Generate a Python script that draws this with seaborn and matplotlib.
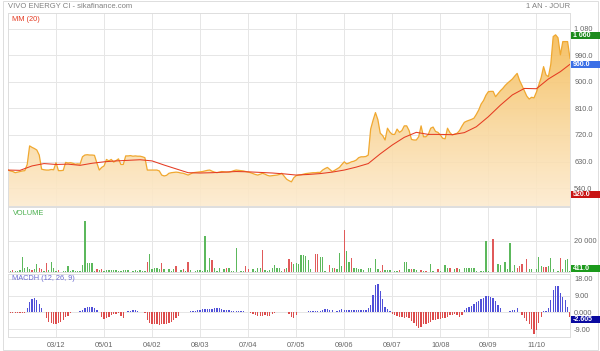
import numpy as np
import matplotlib
matplotlib.use('Agg')
import matplotlib.pyplot as plt
import seaborn as sns
from matplotlib.colors import LinearSegmentedColormap
from matplotlib.patches import Rectangle, PathPatch

# x tick labels (every 20 sessions)
tick_days = [20, 40, 60, 80, 100, 120, 140, 160, 180, 200, 220]
tick_dates = ['03/12', '05/01', '04/02', '08/03', '07/04', '07/05',
              '09/06', '09/07', '10/08', '09/09', '11/10']

# closing price, one value per session
price = [601, 598, 596, 592, 594, 596, 598, 599, 620, 683,
         678, 674, 669, 652, 604, 602, 601, 601, 603, 602,
         626, 599, 599, 600, 627, 625, 626, 624, 621, 622,
         621, 646, 652, 653, 652, 652, 651, 625, 601, 610,
         615, 637, 632, 637, 628, 633, 639, 620, 620, 649,
         649, 650, 648, 649, 648, 648, 646, 643, 601, 601,
         601, 601, 601, 598, 584, 581, 583, 590, 592, 593,
         594, 593, 591, 590, 587, 584, 588, 592, 593, 594,
         595, 596, 598, 600, 601, 597, 594, 592, 594, 596,
         595, 594, 594, 596, 599, 601, 600, 599, 598, 596,
         594, 592, 589, 586, 584, 587, 590, 587, 583, 581,
         582, 583, 584, 586, 590, 580, 570, 565, 561, 575,
         582, 584, 585, 587, 589, 590, 591, 592, 592, 593,
         593, 601, 606, 610, 603, 596, 600, 605, 610, 620,
         629, 622, 625, 629, 631, 635, 643, 646, 646, 647,
         652, 740, 770, 796, 772, 726, 718, 703, 743, 730,
         722, 722, 740, 729, 735, 751, 751, 735, 705, 703,
         703, 714, 751, 714, 714, 722, 743, 747, 732, 729,
         720, 709, 707, 743, 728, 720, 723, 726, 735, 750,
         763, 767, 770, 773, 777, 790, 805, 825, 837, 855,
         867, 868, 868, 850, 860, 870, 878, 888, 896, 903,
         910, 920, 929, 905, 888, 870, 852, 842, 848, 846,
         865, 890, 915, 952, 924, 918, 960, 1054, 1060, 1050,
         992, 1037, 1037, 1037, 980]

# MM(20), read every 5 sessions
ma_days = [0, 5, 10, 15, 20, 25, 30, 35, 40, 45, 50, 55, 60, 65, 70, 75,
           80, 85, 90, 95, 100, 105, 110, 115, 120, 125, 130, 135, 140,
           145, 150, 155, 160, 165, 170, 175, 180, 185, 190, 195, 200,
           205, 210, 215, 220, 225, 230, 234]
ma20 = [601, 600, 615, 623, 620, 621, 617, 624, 629, 632, 634, 636, 632,
        618, 605, 592, 591, 592, 594, 596, 595, 593, 591, 588, 584, 586,
        589, 594, 601, 611, 623, 656, 686, 712, 729, 722, 722, 721, 728,
        748, 782, 821, 856, 878, 877, 910, 935, 960]

volume = [700, 900, 1100, 800, 600, 1200, 9500, 2500, 3000, 2200,
          1200, 1800, 5200, 2800, 1800, 600, 5600, 1500, 6200, 2500,
          400, 1200, 300, 500, 800, 4100, 900, 1200, 400, 700,
          700, 4500, 33100, 5600, 5900, 5800, 600, 1800, 1400, 2000,
          900, 1500, 1600, 1200, 1500, 1300, 400, 600, 1400, 1000,
          1500, 300, 600, 1200, 800, 1000, 400, 700, 6700, 11600,
          1900, 2800, 2800, 2000, 5800, 1900, 300, 1900, 600, 1900,
          4100, 300, 1200, 1900, 500, 6200, 1200, 300, 800, 1200,
          1500, 500, 23400, 1200, 8800, 7700, 2800, 600, 2800, 300,
          1900, 2800, 2300, 400, 700, 15300, 300, 900, 400, 4100,
          2200, 300, 1900, 400, 2300, 2300, 14200, 1300, 400, 1500,
          2800, 4700, 2800, 2300, 600, 1900, 2300, 8400, 6700, 5200,
          5600, 5200, 11000, 11000, 10000, 8000, 1900, 300, 11600, 11600,
          9400, 9400, 600, 300, 4500, 2500, 2500, 1800, 12300, 4100,
          27300, 13800, 6700, 8800, 2400, 2400, 1900, 1900, 1300, 300,
          2800, 2800, 300, 8400, 1900, 900, 4700, 1500, 1300, 1300,
          300, 400, 900, 1300, 300, 6200, 6200, 1900, 1900, 1900,
          1500, 300, 1500, 900, 900, 300, 5200, 900, 300, 1900,
          900, 300, 4700, 2800, 2400, 300, 1900, 2800, 1900, 300,
          2800, 2800, 2800, 2800, 2800, 900, 300, 900, 900, 19800,
          900, 300, 21300, 300, 5200, 4700, 300, 6700, 1900, 18500,
          900, 4700, 2800, 4100, 5200, 300, 8400, 1900, 1900, 300,
          1900, 9500, 4100, 3400, 3400, 4100, 9000, 1900, 300, 900,
          8800, 1900, 8000, 8400, 411]

# sessions closing down (red volume bars)
down_days = [0, 2, 10, 13, 14, 16, 21, 37, 39, 58, 64, 70, 73, 75, 85, 89,
             91, 99, 100, 106, 115, 117, 118, 128, 129, 134, 136, 140, 143,
             155, 156, 163, 168, 172, 174, 175, 179, 184, 187, 202, 212,
             213, 214, 216, 223, 224, 230]

macdh = [-0.2, -0.3, -0.3, -0.4, -0.3, -0.3, -0.4, -0.2, 2.2, 5.8,
         7.2, 7.9, 6.7, 4.3, 2.2, 0.4, -3.2, -5.0, -6.0, -6.3,
         -6.2, -5.7, -5.0, -4.1, -2.7, -1.8, -0.5, 0.2, 0.3, 0.3,
         0.6, 1.3, 2.2, 2.7, 3.1, 2.9, 2.2, 1.3, 0.2, -2.3,
         -3.8, -3.2, -2.3, -1.4, -1.1, -0.7, -0.5, -1.8, -2.9, 0.2,
         0.5, 0.9, 1.4, 1.3, 0.7, 0.2, 0.1, -0.3, -4.1, -5.6,
         -6.3, -6.5, -6.5, -6.6, -6.5, -6.5, -6.2, -5.9, -5.0, -4.0,
         -3.2, -1.8, 0.2, 0.3, 0.3, 0.4, 0.5, 0.6, 0.6, 1.1,
         1.5, 1.6, 1.6, 1.7, 1.8, 2.0, 2.2, 2.2, 2.2, 1.8,
         1.3, 1.0, 1.0, 0.9, 0.8, 0.8, 0.9, 0.8, 0.6, 0.4,
         0.2, -0.3, -1.1, -1.4, -1.8, -1.8, -1.8, -1.7, -1.8, -1.8,
         -1.0, -0.3, 0.4, 0.4, 0.4, 0.3, 0.2, -0.8, -2.3, -2.9,
         -1.2, 0.2, 0.3, 0.4, 0.4, 0.7, 0.7, 0.7, 0.8, 0.9,
         0.9, 1.4, 1.6, 1.8, 1.5, 1.1, 0.4, 0.6, 1.0, 1.8,
         1.5, 1.4, 1.3, 1.4, 1.4, 1.3, 1.4, 1.4, 1.5, 1.4,
         2.2, 4.0, 9.5, 14.5, 15.1, 11.5, 7.0, 3.1, 1.6, 0.7,
         -0.8, -1.4, -1.8, -2.3, -2.6, -2.9, -2.7, -3.2, -4.5, -5.9,
         -7.5, -8.6, -7.7, -6.5, -6.3, -5.5, -5.0, -4.1, -3.9, -3.7,
         -3.6, -3.2, -2.8, -2.3, -1.4, -1.2, -1.1, -1.4, -2.3, -1.4,
         1.3, 2.2, 3.1, 3.6, 4.3, 5.4, 6.3, 7.2, 7.9, 9.0,
         9.0, 8.5, 7.6, 6.0, 4.0, 2.2, 0.1, 0.0, 0.1, 0.7,
         1.0, 1.5, 2.2, 0.4, -1.5, -3.2, -4.5, -6.5, -9.0, -11.9,
         -9.5, -5.9, -2.3, 0.7, 0.7, 2.2, 6.7, 12.1, 14.4, 14.0,
         10.5, 8.5, 6.7, 3.0, -2.605]

days = list(range(len(price)))

sns.set_style('white')
plt.rcParams['font.family'] = ['Liberation Sans', 'DejaVu Sans']

fig = plt.figure(figsize=(6, 3.51), dpi=100)
L, W = 8 / 600, 562 / 600
ax_p = fig.add_axes([L, 1 - 206 / 351, W, 193 / 351])
ax_v = fig.add_axes([L, 1 - 272 / 351, W, 65 / 351])
ax_m = fig.add_axes([L, 1 - 336.5 / 351, W, 62.5 / 351])

grid_c = '#e6e6e6'
for ax in (ax_p, ax_v, ax_m):
    ax.set_xlim(0, len(price) - 1)
    ax.set_xticks(tick_days)
    ax.yaxis.tick_right()
    ax.tick_params(length=0, labelsize=5.3, colors='#666666', pad=3)
    ax.grid(True, color=grid_c, linewidth=0.7)
    ax.set_axisbelow(True)
    for s in ax.spines.values():
        s.set_color('#dddddd')
        s.set_linewidth(0.7)

# ---- price panel
p_lo, p_hi = 479, 1134
poly = ax_p.fill_between(days, price, p_lo, color='none')
path = poly.get_paths()[0]
patch = PathPatch(path, transform=ax_p.transData, facecolor='none', edgecolor='none')
ax_p.add_patch(patch)
cmap = LinearSegmentedColormap.from_list('orng', ['#fdebcf', '#f9d597', '#f5bb55'])
grad = np.linspace(0, 1, 256).reshape(-1, 1)
im = ax_p.imshow(grad, aspect='auto', cmap=cmap, origin='lower',
                 extent=[0, len(price) - 1, p_lo, max(price)], zorder=1, alpha=0.9)
im.set_clip_path(patch)
sns.lineplot(x=days, y=price, ax=ax_p, color='#f0a830', linewidth=0.9, zorder=3)
sns.lineplot(x=ma_days, y=ma20, ax=ax_p, color='#e53b22', linewidth=0.75, zorder=4)
ax_p.set_xlim(0, len(price) - 1)
ax_p.set_ylim(p_lo, p_hi)
p_ticks = [540, 630, 720, 810, 900, 990, 1080]
ax_p.set_yticks(p_ticks, ['540.0', '630.0', '720.0', '810.0', '900.0', '990.0', '1 080'])
ax_p.set_xticklabels([])
ax_p.set_xlabel('')
ax_p.set_ylabel('')
ax_p.text(0.008, 0.985, 'MM (20)', transform=ax_p.transAxes, color='#e53b22',
          fontsize=5.3, va='top', ha='left')

# ---- volume panel
vol_colors = ['#e05a5a' if d in down_days else '#5cb85c' for d in days]
ax_v.bar(days, volume, width=0.55, color=vol_colors, linewidth=0, zorder=2)
ax_v.set_ylim(0, 41900)
ax_v.set_yticks([20000], ['20 000'])
ax_v.set_xticklabels([])
ax_v.text(0.008, 0.96, 'VOLUME', transform=ax_v.transAxes, color='#4cb050',
          fontsize=5.3, va='top', ha='left')

# ---- MACD histogram panel
m_colors = ['#5050d8' if v >= 0 else '#dd4c4c' for v in macdh]
ax_m.bar(days, macdh, width=0.55, color=m_colors, linewidth=0, zorder=2)
ax_m.set_ylim(-13, 20.6)
ax_m.set_yticks([-9, 0, 9, 18], ['-9.00', '0.000', '9.00', '18.00'])
ax_m.set_xticks(tick_days, tick_dates)
ax_m.tick_params(axis='x', pad=4)
ax_m.text(0.008, 0.98, 'MACDH (12, 26, 9)', transform=ax_m.transAxes, color='#6a6ad0',
          fontsize=5.3, va='top', ha='left')

# ---- header texts and frame
fig.text(8 / 600, 1 - 6 / 351, 'VIVO ENERGY CI - sikafinance.com', fontsize=5.5,
         color='#808080', va='center', ha='left')
fig.text(570 / 600, 1 - 6 / 351, '1 AN - JOUR', fontsize=5.5,
         color='#808080', va='center', ha='right')
fig.patches.append(Rectangle((2.5 / 600, 1 / 351), 595 / 600, 349 / 351,
                             transform=fig.transFigure, facecolor='none',
                             edgecolor='#dddddd', linewidth=0.7))


def tag(ax, val, text, color, shift=0):
    # shift in pixels (positive = downwards)
    y_disp = ax.transData.transform((0, val))[1] - shift
    y_fig = fig.transFigure.inverted().transform((0, y_disp))[1]
    h = 7 / 351
    fig.patches.append(Rectangle((571 / 600, y_fig - h / 2), 29 / 600, h,
                                 transform=fig.transFigure, facecolor=color,
                                 edgecolor='none', zorder=5))
    fig.text(573 / 600, y_fig, text, color='white', fontsize=5, va='center',
             ha='left', fontweight='bold', zorder=6)


tag(ax_p, 1060, '1 060', '#1c8a1c', shift=1)
tag(ax_p, 960, '960.0', '#3b6fe6')
tag(ax_p, 520, '520.0', '#c81414', shift=1)
tag(ax_v, 411, '411.0', '#1c9a1c', shift=-3)
tag(ax_m, -2.605, '-2.605', '#0a0aa0', shift=2.5)

fig.savefig('out.png', dpi=100)
